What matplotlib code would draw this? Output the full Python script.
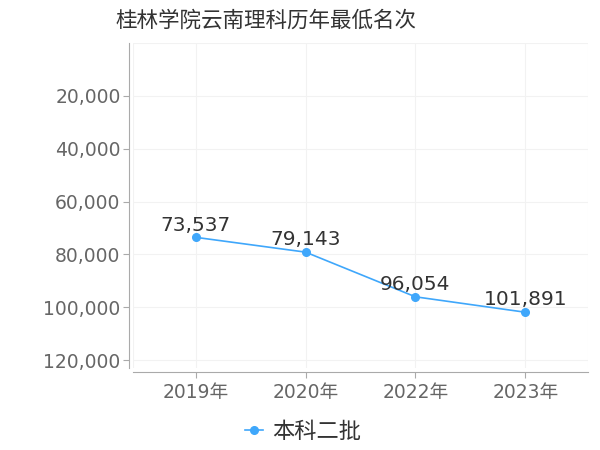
import matplotlib
matplotlib.use('Agg')
import matplotlib.pyplot as plt
from matplotlib.ticker import FuncFormatter

plt.rcParams['font.family'] = ['DejaVu Sans', 'Noto Sans CJK SC']

title = '桂林学院云南理科历年最低名次'
years = ['2019年', '2020年', '2022年', '2023年']
ranks = [73537, 79143, 96054, 101891]
series_name = '本科二批'
yticks = [20000, 40000, 60000, 80000, 100000, 120000]

line_color = '#3fa7fb'

fig = plt.figure(figsize=(6, 4.5), dpi=100)
ax = fig.add_axes([0.2217, 0.1822, 0.7583, 0.7222])

x = list(range(len(years)))
ax.plot(x, ranks, color=line_color, lw=1.2, marker='o', ms=5.5, label=series_name, zorder=3)
for xi, v in zip(x, ranks):
    ax.annotate(f'{v:,}', (xi, v), xytext=(0, 2), textcoords='offset points',
                ha='center', va='bottom', fontsize=14.5, color='#333333', zorder=4)

ax.set_xlim(-0.57, 3.57)
ax.set_ylim(123000, 0)
ax.set_xticks(x)
ax.set_xticklabels(years)
ax.set_yticks(yticks)
ax.yaxis.set_major_formatter(FuncFormatter(lambda v, p: f'{int(v):,}'))
ax.tick_params(axis='both', labelsize=13.5, colors='#aaaaaa', labelcolor='#666666', length=4, width=0.8)
ax.tick_params(axis='y', pad=2)
ax.tick_params(axis='x', pad=4)

# light grid, including the edges of the plotting area
for yv in [0] + yticks:
    ax.axhline(yv, color='#f2f2f2', lw=0.8, zorder=0)
for xv in [-0.57] + x + [3.57]:
    ax.axvline(xv, color='#f2f2f2', lw=0.8, zorder=0)

for s in ['top', 'right']:
    ax.spines[s].set_visible(False)
for s in ['left', 'bottom']:
    ax.spines[s].set_color('#aaaaaa')
    ax.spines[s].set_linewidth(0.8)
    ax.spines[s].set_position(('outward', 3))

fig.text(0.192, 0.955, title, fontsize=15.5, color='#333333', ha='left', va='center')

fig.legend(loc='center', bbox_to_anchor=(0.505, 0.04), frameon=False, fontsize=16,
           handlelength=0.8, handletextpad=0.4, labelcolor='#333333')

fig.savefig('out.png', dpi=100)
